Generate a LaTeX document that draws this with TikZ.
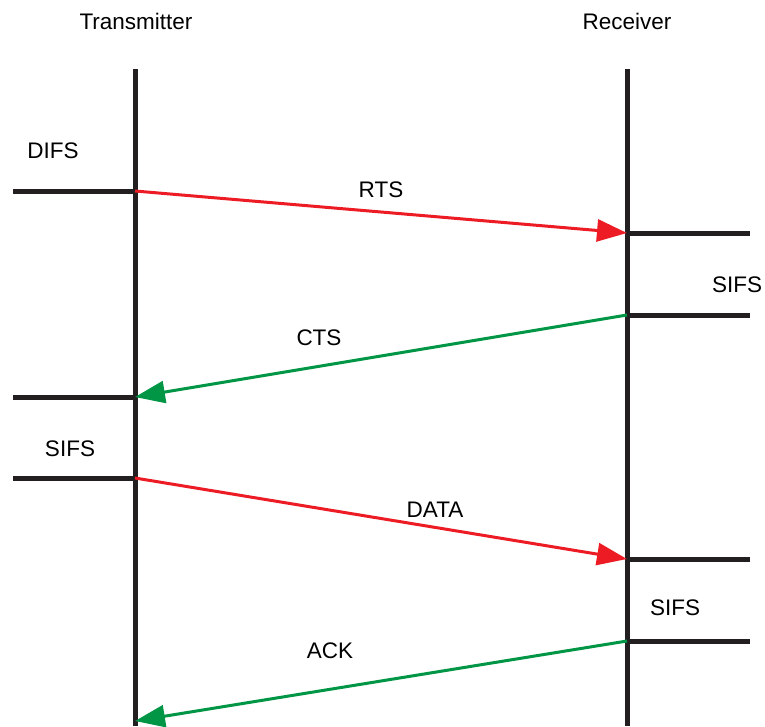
\documentclass[tikz,border=0pt]{standalone}
\usepackage{fontspec}
\setmainfont{Liberation Sans}
\usetikzlibrary{arrows.meta}
\definecolor{msgred}{RGB}{237,28,36}
\definecolor{msggreen}{RGB}{0,150,70}
\definecolor{linegray}{RGB}{35,31,32}
\tikzset{
  lifeline/.style={line width=5pt, draw=linegray},
  tick/.style={line width=5pt, draw=linegray},
  lbl/.style={font=\fontsize{22.5}{26}\selectfont, inner sep=0pt},
  msg/.style={line width=3pt, -{Triangle[length=30pt,width=22pt]}},
  req/.style={msg, draw=msgred, fill=msgred},
  rep/.style={msg, draw=msggreen, fill=msggreen}
}
\begin{document}
\begin{tikzpicture}[x=1pt,y=-1pt]
\useasboundingbox (0,0) rectangle (765,726);
% titles
\node[lbl] (tx) at (136,21) {Transmitter};
\node[lbl] (rx) at (627,21) {Receiver};
% lifelines
\coordinate (ttop) at (135,69);
\coordinate (tbot) at (135,726);
\coordinate (rtop) at (627,69);
\coordinate (rbot) at (627,726);
\draw[lifeline] (ttop) -- (tbot);
\draw[lifeline] (rtop) -- (rbot);
% event points on the transmitter side
\coordinate (t1) at (135,191);
\coordinate (t2) at (135,397);
\coordinate (t3) at (135,478);
\coordinate (t4) at (135,721);
\coordinate (l1) at (13,191);
\coordinate (l2) at (13,397);
\coordinate (l3) at (13,478);
% event points on the receiver side
\coordinate (r1) at (627,233);
\coordinate (r2) at (627,315);
\coordinate (r3) at (627,559);
\coordinate (r4) at (627,641);
\coordinate (e1) at (750,233);
\coordinate (e2) at (750,315);
\coordinate (e3) at (750,559);
\coordinate (e4) at (750,641);
% interframe space markers
\draw[tick] (l1) -- (t1);
\draw[tick] (l2) -- (t2);
\draw[tick] (l3) -- (t3);
\draw[tick] (r1) -- (e1);
\draw[tick] (r2) -- (e2);
\draw[tick] (r3) -- (e3);
\draw[tick] (r4) -- (e4);
% frames
\draw[req] (t1) -- (r1);
\draw[rep] (r2) -- (t2);
\draw[req] (t3) -- (r3);
\draw[rep] (r4) -- (t4);
% labels
\node[lbl] (difs) at (53,151) {DIFS};
\node[lbl] (rts) at (381,190) {RTS};
\node[lbl] (sifs1) at (737,285) {SIFS};
\node[lbl] (cts) at (319,338) {CTS};
\node[lbl] (sifs2) at (70,449) {SIFS};
\node[lbl] (data) at (435,510) {DATA};
\node[lbl] (sifs3) at (675,608) {SIFS};
\node[lbl] (ack) at (330,651) {ACK};
\end{tikzpicture}
\end{document}
